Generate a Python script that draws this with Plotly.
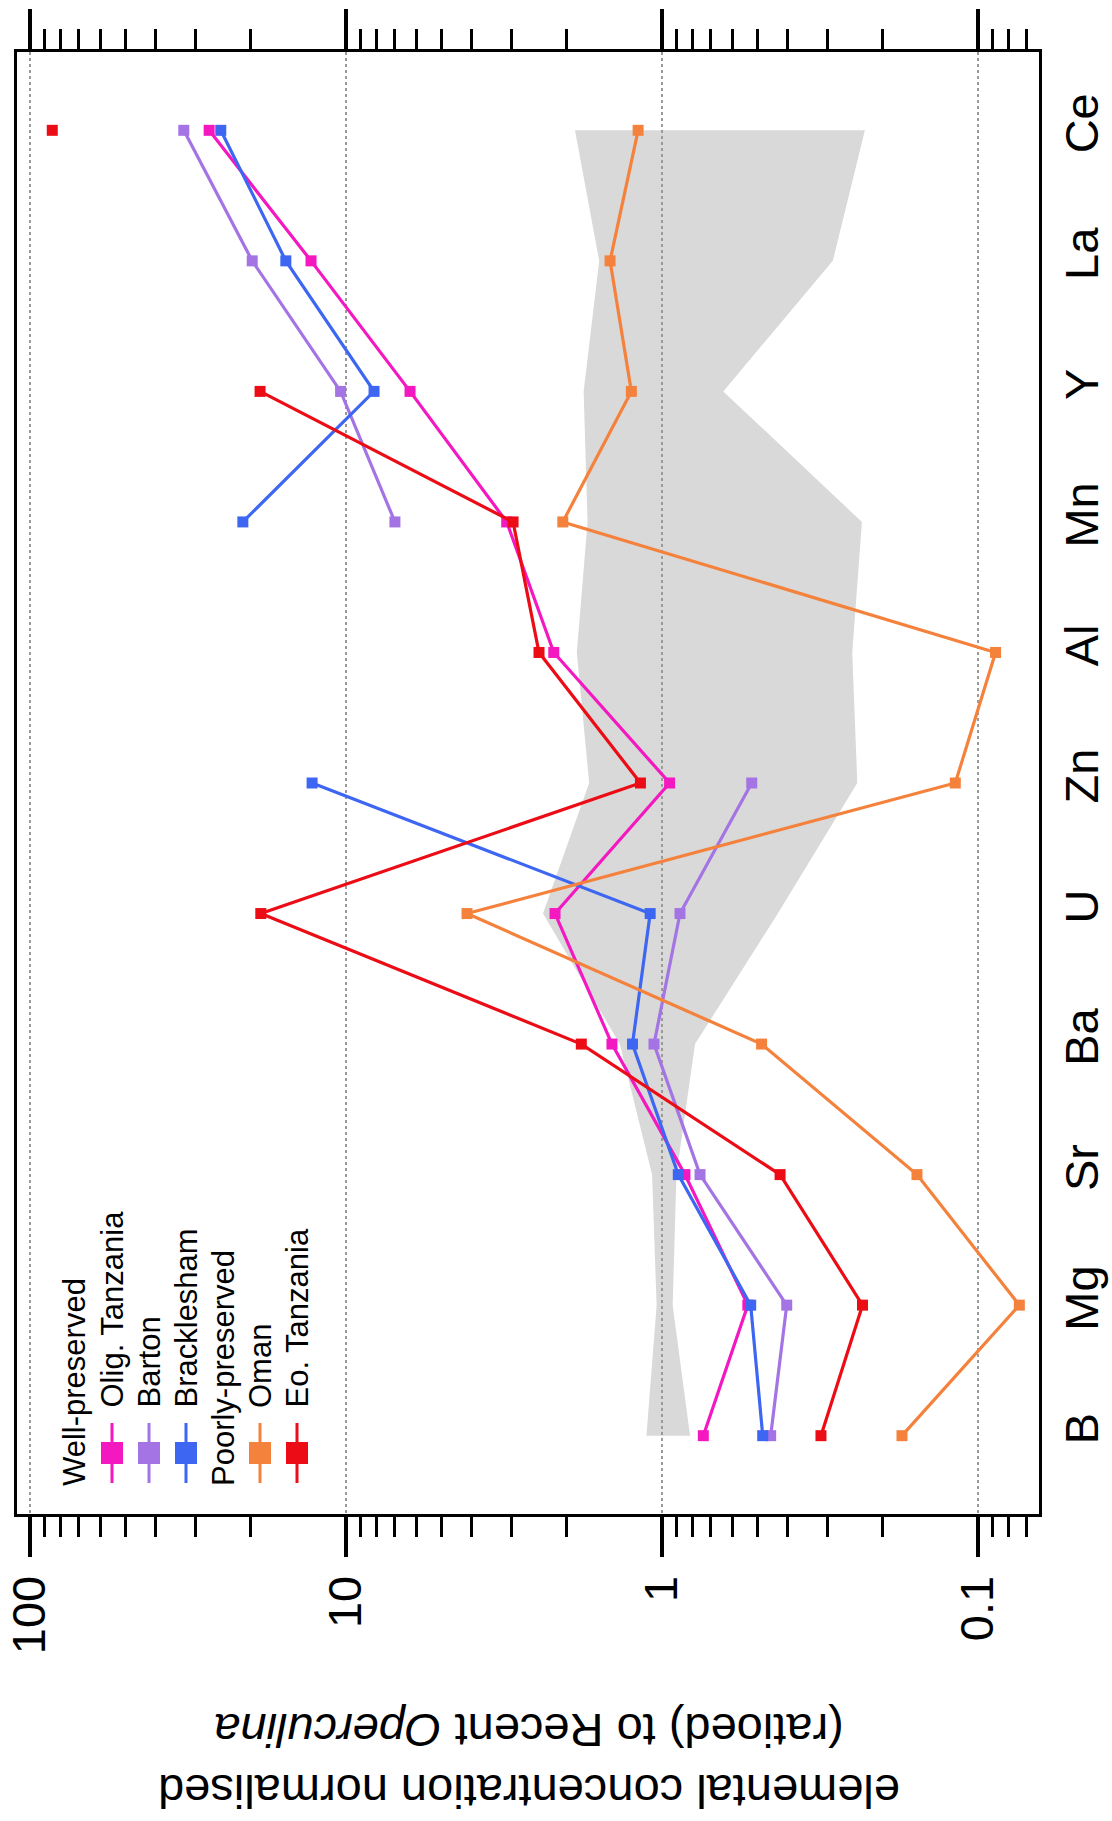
import plotly.graph_objects as go

# ---------------- data ----------------
elements = ["B", "Mg", "Sr", "Ba", "U", "Zn", "Al", "Mn", "Y", "La", "Ce"]

olig_tanzania = [0.74, 0.535, 0.846, 1.44, 2.18, 0.946, 2.2, 3.1, 6.27, 12.9, 27.1]
barton        = [0.453, 0.403, 0.758, 1.06, 0.877, 0.52, None, 7.0, 10.4, 19.8, 32.6]
bracklesham   = [0.48, 0.524, 0.888, 1.24, 1.09, 12.8, None, 21.2, 8.15, 15.5, 24.9]
oman          = [0.174, 0.074, 0.156, 0.484, 4.14, 0.118, 0.088, 2.06, 1.25, 1.46, 1.19]
eo_tanzania   = [0.314, 0.232, 0.423, 1.80, 18.6, 1.17, 2.45, 2.96, 18.7, None, 85.0]

recent_high = [1.12, 1.04, 1.075, 1.36, 2.38, 1.70, 1.86, 1.72, 1.77, 1.58, 1.885]
recent_low  = [0.815, 0.925, 0.90, 0.786, 0.43, 0.241, 0.25, 0.233, 0.64, 0.288, 0.228]

major_ticks = [0.1, 1, 10, 100]
major_text = ["0.1", "1", "10", "100"]
minor_ticks = [0.07, 0.08, 0.09] + [m * 10.0 ** e for e in (-1, 0, 1) for m in range(2, 10)]

series = [
    ("Olig. Tanzania", olig_tanzania, "#f418c0"),
    ("Barton", barton, "#a474e4"),
    ("Bracklesham", bracklesham, "#3d66f2"),
    ("Oman", oman, "#f5823c"),
    ("Eo. Tanzania", eo_tanzania, "#ec0c16"),
]

# ---------------- layout geometry ----------------
W, H = 1112, 1821
PL, PR, PT, PB = 17, 1039, 52, 1514
FONT = "Liberation Sans, Arial, sans-serif"


def px(x):
    return (x - PL) / (PR - PL)


def py(y):
    return (PB - y) / (PB - PT)


idx = list(range(len(elements)))

fig = go.Figure()

# Recent Operculina range band (shape below the gridlines, in data coords)
pts = [(v, i) for i, v in zip(idx, recent_high)] + \
      [(v, i) for i, v in zip(idx[::-1], recent_low[::-1])]
path = "M " + " L ".join(f"{x:.5f},{y:.5f}" for x, y in pts) + " Z"
fig.add_shape(type="path", path=path, xref="x", yref="y",
              fillcolor="#d9d9d9", line=dict(width=0), layer="below")

for name, vals, col in series:
    fig.add_trace(go.Scatter(
        x=vals, y=idx, mode="lines+markers", name=name,
        line=dict(color=col, width=3.2),
        marker=dict(symbol="square", size=11, color=col),
        connectgaps=False, showlegend=False, cliponaxis=True,
    ))

fig.update_layout(
    width=W, height=H,
    margin=dict(l=PL, r=W - PR, t=PT, b=H - PB, pad=0, autoexpand=False),
    paper_bgcolor="white", plot_bgcolor="white",
    font=dict(family=FONT, color="black"),
    showlegend=False,
)

fig.update_xaxes(
    type="log",
    range=[2.041, -1.193],
    automargin=False,
    tickvals=major_ticks, ticktext=major_text,
    tickangle=-90,
    tickfont=dict(size=47, family=FONT, color="black"),
    ticks="outside", ticklen=40, tickwidth=3.5, tickcolor="black",
    minor=dict(tickvals=minor_ticks, ticks="outside", ticklen=20,
               tickwidth=3, tickcolor="black", showgrid=False),
    showgrid=True, gridcolor="#9a9a9a", gridwidth=1.5, griddash="dot",
    showline=True, linecolor="black", linewidth=3, mirror="ticks",
    zeroline=False,
)

fig.update_yaxes(
    range=[-0.6, 10.6],
    automargin=False,
    tickvals=idx, ticktext=elements,
    side="right", tickangle=-90,
    tickfont=dict(size=47, family=FONT, color="black"),
    ticks="", showgrid=False, zeroline=False,
    showline=True, linecolor="black", linewidth=3, mirror=True,
)

# ---------------- manual rotated legend ----------------
leg_font = dict(family=FONT, size=31, color="black")
headers = [("Well-preserved", 74), ("Poorly-preserved", 223)]
for txt, cx in headers:
    fig.add_annotation(text=txt, x=px(cx), y=py(1488), xref="paper", yref="paper",
                       xanchor="center", yanchor="bottom", textangle=-90,
                       showarrow=False, font=leg_font)

leg_cols = [112, 149, 186, 260, 297]
for (name, vals, col), cx in zip(series, leg_cols):
    fig.add_shape(type="line", xref="paper", yref="paper",
                  x0=px(cx), x1=px(cx), y0=py(1423), y1=py(1483),
                  line=dict(color=col, width=3), layer="above")
    fig.add_shape(type="rect", xref="paper", yref="paper",
                  x0=px(cx - 11), x1=px(cx + 11), y0=py(1464), y1=py(1442),
                  fillcolor=col, line=dict(width=0), layer="above")
    fig.add_annotation(text=name, x=px(cx), y=py(1410), xref="paper", yref="paper",
                       xanchor="center", yanchor="bottom", textangle=-90,
                       showarrow=False, font=leg_font)

# ---------------- rotated axis title ----------------
fig.add_annotation(
    text="elemental concentration normalised<br>(ratioed) to Recent <i>Operculina</i>",
    x=px(529), y=py(1761), xref="paper", yref="paper",
    xanchor="center", yanchor="middle", textangle=180,
    showarrow=False, font=dict(family=FONT, size=47, color="black"),
)

fig.write_html("out.html")
